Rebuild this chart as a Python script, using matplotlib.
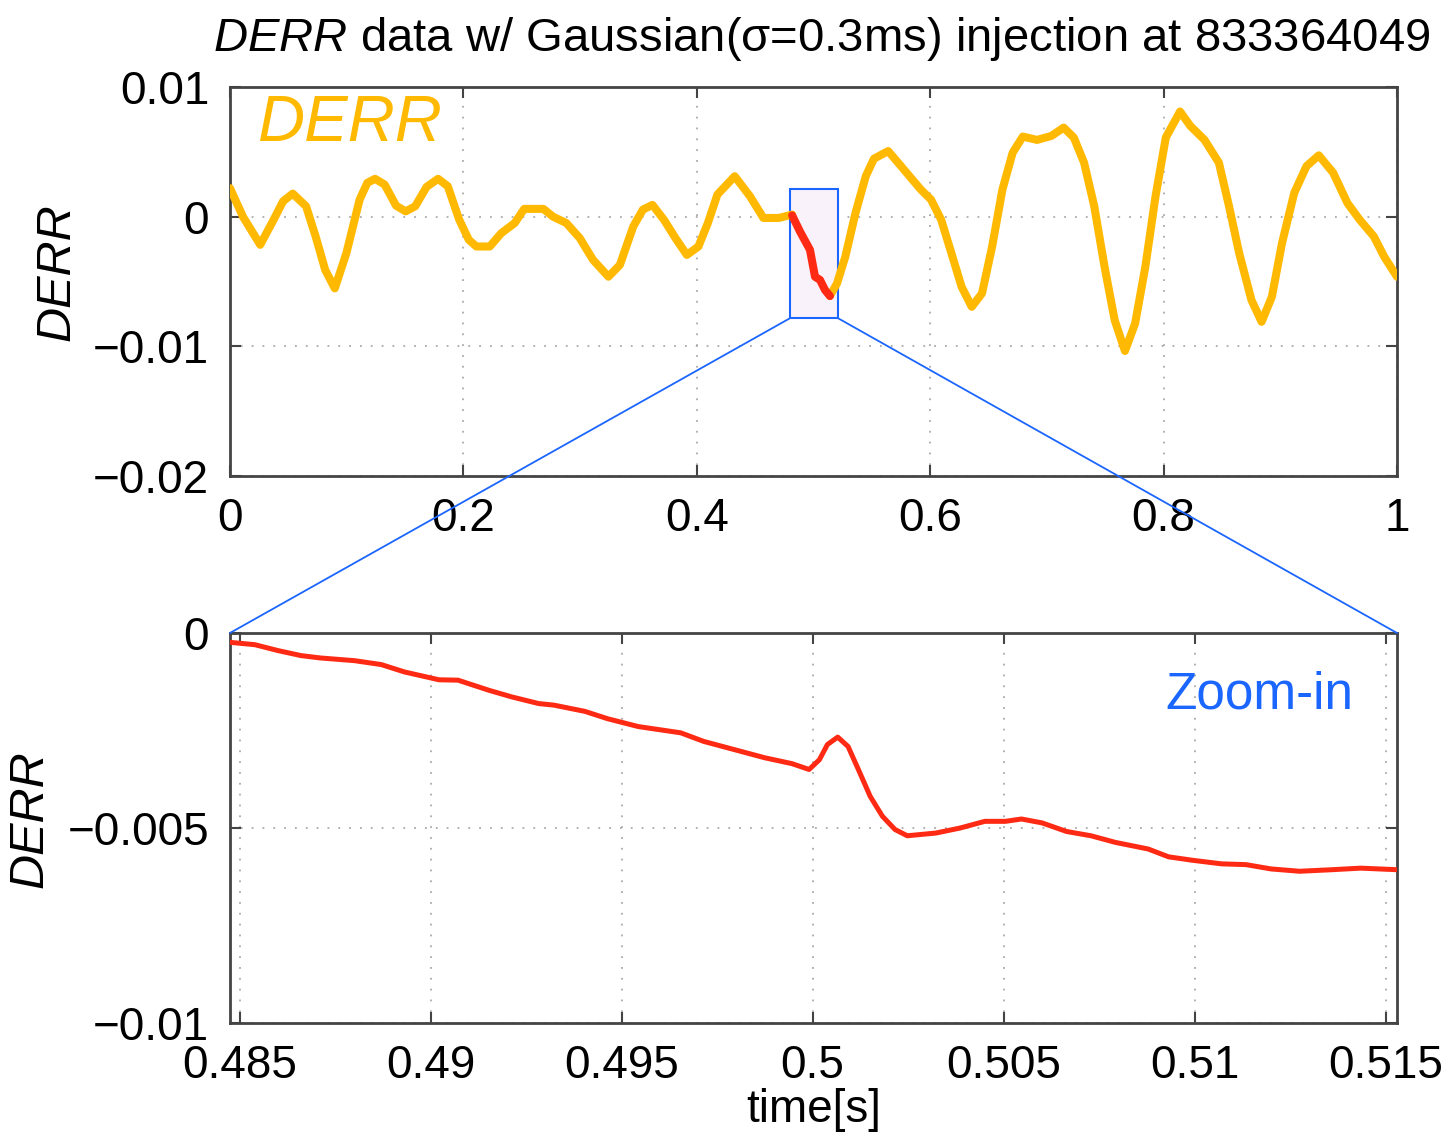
import matplotlib
matplotlib.use("Agg")
import matplotlib.pyplot as plt
from matplotlib.patches import Rectangle, ConnectionPatch

plt.rcParams['font.family'] = ['Liberation Sans', 'DejaVu Sans']
plt.rcParams['mathtext.fontset'] = 'custom'
plt.rcParams['mathtext.it'] = 'Liberation Sans:italic'
plt.rcParams['mathtext.rm'] = 'Liberation Sans'

# top panel: DERR before injection
pre_t = [0.0, 0.0111, 0.0259, 0.0374, 0.0455, 0.0538, 0.0652, 0.0734, 0.0816,
         0.0898, 0.0997, 0.1111, 0.1177, 0.1243, 0.1325, 0.1423, 0.1505, 0.1587,
         0.1685, 0.1783, 0.1866, 0.1964, 0.2046, 0.2111, 0.2226, 0.2325, 0.2440,
         0.2521, 0.2686, 0.2768, 0.2882, 0.2997, 0.3111, 0.3243, 0.3341, 0.3456,
         0.3538, 0.3620, 0.3718, 0.3817, 0.3915, 0.4014, 0.4095, 0.4177, 0.4325,
         0.4456, 0.4571, 0.4702, 0.4817]
pre_v = [0.0022, 0.0, -0.00217, -0.00023, 0.00119, 0.00178, 0.0008, -0.00153, -0.00411,
         -0.00553, -0.00282, 0.00132, 0.00261, 0.00292, 0.00248, 0.00085, 0.00041, 0.0008,
         0.0023, 0.00292, 0.00235, -0.00023, -0.00178, -0.0023, -0.0023, -0.00127, -0.00049,
         0.0006, 0.0006, 0.0, -0.00049, -0.00165, -0.00333, -0.00463, -0.00372, -0.00075,
         0.00054, 0.00091, -0.00023, -0.00165, -0.00295, -0.0023, -0.00049, 0.00171, 0.00312,
         0.00157, -0.0001, -0.0001, 0.00016]

# top panel: injection window (red)
inj_t = [0.4817, 0.4884, 0.4970, 0.5013, 0.5056, 0.5099, 0.5141]
inj_v = [0.0001, -0.00114, -0.00256, -0.00463, -0.00488, -0.00566, -0.00612]

# top panel: DERR after injection
post_t = [0.5141, 0.5202, 0.5273, 0.5360, 0.5448, 0.5518, 0.5640, 0.5762, 0.5920,
          0.6007, 0.6094, 0.6182, 0.6269, 0.6356, 0.6444, 0.6531, 0.6619, 0.6707,
          0.6794, 0.6916, 0.7039, 0.7144, 0.7231, 0.7319, 0.7406, 0.7494, 0.7581,
          0.7669, 0.7756, 0.7844, 0.7931, 0.8019, 0.8141, 0.8229, 0.8351, 0.8474,
          0.8561, 0.8648, 0.8753, 0.8840, 0.8928, 0.9015, 0.9120, 0.9225, 0.9330,
          0.9453, 0.9575, 0.9680, 0.9802, 0.9890, 1.0]
post_v = [-0.00612, -0.00514, -0.00308, 0.00029, 0.00312, 0.00447, 0.00506, 0.00377, 0.00209,
          0.00132, -0.00023, -0.00282, -0.0054, -0.00695, -0.00592, -0.0023, 0.00209, 0.00494,
          0.00618, 0.00592, 0.00623, 0.00687, 0.0061, 0.00416, 0.0008, -0.00385, -0.00798,
          -0.01036, -0.00824, -0.00385, 0.00157, 0.0061, 0.00811, 0.007, 0.00592, 0.00416,
          0.0008, -0.00282, -0.00643, -0.00811, -0.00618, -0.00204, 0.00184, 0.0039, 0.00473,
          0.00339, 0.00106, -0.00023, -0.00153, -0.00308, -0.00463]

# bottom panel: zoom-in
zoom_t = [0.48475, 0.4854, 0.4860, 0.48661, 0.48711, 0.48801, 0.48871, 0.48932, 0.49022,
          0.49072, 0.49153, 0.49213, 0.49283, 0.49323, 0.49404, 0.49464, 0.49544, 0.49655,
          0.49715, 0.49795, 0.49875, 0.49946, 0.49991, 0.50018, 0.50039, 0.50066, 0.50093,
          0.5012, 0.50151, 0.50183, 0.50216, 0.50248, 0.50323, 0.50387, 0.50451, 0.50505,
          0.50547, 0.50601, 0.50665, 0.50729, 0.50793, 0.50879, 0.50932, 0.50996, 0.51071,
          0.51135, 0.5120, 0.51275, 0.5136, 0.51435, 0.5153]
zoom_v = [-0.00024, -0.0003, -0.00045, -0.00058, -0.00064, -0.00071, -0.00081, -0.001, -0.0012,
          -0.00121, -0.00147, -0.00164, -0.00181, -0.00185, -0.00201, -0.0022, -0.0024, -0.00256,
          -0.00278, -0.00299, -0.0032, -0.00335, -0.0035, -0.00325, -0.00286, -0.00267, -0.00291,
          -0.0035, -0.00419, -0.0047, -0.00504, -0.0052, -0.00513, -0.005, -0.00483, -0.00483,
          -0.00477, -0.00487, -0.00509, -0.0052, -0.00537, -0.00554, -0.00574, -0.00583, -0.00592,
          -0.00594, -0.00605, -0.00611, -0.00607, -0.00603, -0.00607]

top_xticks = [0, 0.2, 0.4, 0.6, 0.8, 1]
top_xlabels = ['0', '0.2', '0.4', '0.6', '0.8', '1']
top_yticks = [-0.02, -0.01, 0, 0.01]
top_ylabels = ['\u22120.02', '\u22120.01', '0', '0.01']
bot_xticks = [0.485, 0.49, 0.495, 0.5, 0.505, 0.51, 0.515]
bot_xlabels = ['0.485', '0.49', '0.495', '0.5', '0.505', '0.51', '0.515']
bot_yticks = [-0.01, -0.005, 0]
bot_ylabels = ['\u22120.01', '\u22120.005', '0']

yellow = '#ffb900'
red = '#ff2a14'
blue = '#1a66ff'

fig = plt.figure(figsize=(14.52, 11.36), dpi=100)
ax1 = fig.add_axes([0.1584, 0.581, 0.8037, 0.3424])
ax2 = fig.add_axes([0.1584, 0.0995, 0.8037, 0.3433])


def style(ax):
    for s in ax.spines.values():
        s.set_linewidth(2)
        s.set_color('#444444')
    ax.tick_params(direction='in', length=8, width=1.5, color='#444444',
                   top=True, right=True, labelsize=33, pad=15)
    ax.grid(True, color='#aaaaaa', linestyle=(0, (1, 5)), linewidth=1.3)
    ax.set_axisbelow(True)


# top panel
style(ax1)
ax1.add_patch(Rectangle((0.4799, -0.00783), 0.0411, 0.00993, facecolor='#f9f2fb',
                        edgecolor=blue, linewidth=1.5, zorder=2))
for tt, vv in [(pre_t, pre_v), (post_t, post_v)]:
    ax1.plot(tt, vv, color=yellow, linewidth=5.8, solid_capstyle='round',
             solid_joinstyle='round', zorder=3)
ax1.plot(inj_t, inj_v, color=red, linewidth=5.8, solid_capstyle='round',
         solid_joinstyle='round', zorder=4)
ax1.set_xlim(0, 1)
ax1.set_ylim(-0.02, 0.01)
ax1.set_xticks(top_xticks)
ax1.set_xticklabels(top_xlabels)
ax1.set_yticks(top_yticks)
ax1.set_yticklabels(top_ylabels)
ax1.set_ylabel('DERR', fontsize=35, fontstyle='italic')
ax1.yaxis.set_label_coords(-0.129, 0.523)
ax1.text(0.024, 0.905, 'DERR', transform=ax1.transAxes, fontsize=47,
         fontstyle='italic', color=yellow, ha='left', va='center')
ax1.set_title('$\\mathit{DERR}$ data w/ Gaussian(\u03c3=0.3ms) injection at 833364049',
              fontsize=34, pad=26, x=0.507)

# bottom panel
style(ax2)
ax2.plot(zoom_t, zoom_v, color=red, linewidth=3.6, solid_joinstyle='round', zorder=3)
ax2.set_xlim(0.48475, 0.5153)
ax2.set_ylim(-0.01, 0)
ax2.set_xticks(bot_xticks)
ax2.set_xticklabels(bot_xlabels)
ax2.set_yticks(bot_yticks)
ax2.set_yticklabels(bot_ylabels)
ax2.set_ylabel('DERR', fontsize=35, fontstyle='italic')
ax2.yaxis.set_label_coords(-0.152, 0.522)
ax2.set_xlabel('time[s]', fontsize=33, labelpad=0)
ax2.text(0.963, 0.84, 'Zoom-in', transform=ax2.transAxes, fontsize=37,
         color=blue, ha='right', va='center')

# connector lines from the window to the zoomed panel
for xa, xb in [(0.4799, 0), (0.521, 1)]:
    con = ConnectionPatch(xyA=(xa, -0.00783), coordsA=ax1.transData,
                          xyB=(xb, 1), coordsB=ax2.transAxes,
                          color=blue, linewidth=1.3)
    fig.add_artist(con)

fig.savefig('out.png', dpi=100)
